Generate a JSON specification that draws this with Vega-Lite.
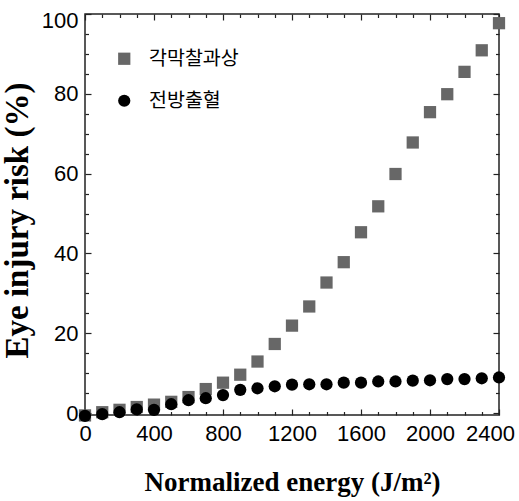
{
  "$schema": "https://vega.github.io/schema/vega-lite/v6.json",
  "width": 414,
  "height": 401,
  "autosize": {"type": "none"},
  "padding": {"left": 85, "top": 14, "right": 20, "bottom": 86},
  "background": "white",
  "config": {"view": {"stroke": "#222222", "strokeWidth": 1.5}},
  "data": {"values": [
    {"type": "각막찰과상", "energy": 0, "risk": -0.6},
    {"type": "각막찰과상", "energy": 100, "risk": 0.2},
    {"type": "각막찰과상", "energy": 200, "risk": 0.8},
    {"type": "각막찰과상", "energy": 300, "risk": 1.5},
    {"type": "각막찰과상", "energy": 400, "risk": 2.1},
    {"type": "각막찰과상", "energy": 500, "risk": 2.8},
    {"type": "각막찰과상", "energy": 600, "risk": 4.0},
    {"type": "각막찰과상", "energy": 700, "risk": 6.0},
    {"type": "각막찰과상", "energy": 800, "risk": 7.6},
    {"type": "각막찰과상", "energy": 900, "risk": 9.6},
    {"type": "각막찰과상", "energy": 1000, "risk": 12.9},
    {"type": "각막찰과상", "energy": 1100, "risk": 17.3},
    {"type": "각막찰과상", "energy": 1200, "risk": 21.9},
    {"type": "각막찰과상", "energy": 1300, "risk": 26.7},
    {"type": "각막찰과상", "energy": 1400, "risk": 32.7},
    {"type": "각막찰과상", "energy": 1500, "risk": 37.8},
    {"type": "각막찰과상", "energy": 1600, "risk": 45.3},
    {"type": "각막찰과상", "energy": 1700, "risk": 51.8},
    {"type": "각막찰과상", "energy": 1800, "risk": 59.9},
    {"type": "각막찰과상", "energy": 1900, "risk": 67.8},
    {"type": "각막찰과상", "energy": 2000, "risk": 75.4},
    {"type": "각막찰과상", "energy": 2100, "risk": 79.9},
    {"type": "각막찰과상", "energy": 2200, "risk": 85.5},
    {"type": "각막찰과상", "energy": 2300, "risk": 90.9},
    {"type": "각막찰과상", "energy": 2400, "risk": 97.7},
    {"type": "전방출혈", "energy": 0, "risk": -0.7},
    {"type": "전방출혈", "energy": 100, "risk": -0.3},
    {"type": "전방출혈", "energy": 200, "risk": 0.2},
    {"type": "전방출혈", "energy": 300, "risk": 0.9},
    {"type": "전방출혈", "energy": 400, "risk": 0.8},
    {"type": "전방출혈", "energy": 500, "risk": 2.2},
    {"type": "전방출혈", "energy": 600, "risk": 3.2},
    {"type": "전방출혈", "energy": 700, "risk": 3.7},
    {"type": "전방출혈", "energy": 800, "risk": 4.5},
    {"type": "전방출혈", "energy": 900, "risk": 5.8},
    {"type": "전방출혈", "energy": 1000, "risk": 6.2},
    {"type": "전방출혈", "energy": 1100, "risk": 6.7},
    {"type": "전방출혈", "energy": 1200, "risk": 7.1},
    {"type": "전방출혈", "energy": 1300, "risk": 7.2},
    {"type": "전방출혈", "energy": 1400, "risk": 7.2},
    {"type": "전방출혈", "energy": 1500, "risk": 7.6},
    {"type": "전방출혈", "energy": 1600, "risk": 7.6},
    {"type": "전방출혈", "energy": 1700, "risk": 7.9},
    {"type": "전방출혈", "energy": 1800, "risk": 7.9},
    {"type": "전방출혈", "energy": 1900, "risk": 8.1},
    {"type": "전방출혈", "energy": 2000, "risk": 8.2},
    {"type": "전방출혈", "energy": 2100, "risk": 8.5},
    {"type": "전방출혈", "energy": 2200, "risk": 8.5},
    {"type": "전방출혈", "energy": 2300, "risk": 8.7},
    {"type": "전방출혈", "energy": 2400, "risk": 8.9}
  ]},
  "layer": [
    {
      "mark": {"type": "point", "filled": true, "opacity": 1, "size": 150},
      "encoding": {
        "x": {
          "field": "energy", "type": "quantitative",
          "scale": {"domain": [0, 2400], "nice": false, "zero": false},
          "axis": {
            "orient": "bottom",
            "values": [0,100,200,300,400,500,600,700,800,900,1000,1100,1200,1300,1400,1500,1600,1700,1800,1900,2000,2100,2200,2300,2400],
            "format": "d",
            "labelExpr": "datum.value % 400 === 0 ? datum.label : ''",
            "tickSize": {"condition": {"test": "datum.value % 400 === 0", "value": -6}, "value": -3.5},
            "labelOffset": {"condition": {"test": "datum.value === 2400", "value": -9}, "value": 0},
            "tickColor": "#222222", "tickWidth": 1.2,
            "domain": false, "grid": false,
            "labelFont": "Liberation Sans", "labelFontSize": 22, "labelColor": "black",
            "labelPadding": 14, "labelFlush": false, "labelOverlap": false,
            "title": "Normalized energy (J/m²)",
            "titleFont": "Liberation Serif", "titleFontSize": 27, "titleFontWeight": "bold", "titleColor": "black",
            "titleY": 75, "titleBaseline": "alphabetic"
          }
        },
        "y": {
          "field": "risk", "type": "quantitative",
          "scale": {"domain": [-0.5, 100], "nice": false, "zero": false},
          "axis": {
            "orient": "left",
            "values": [0,5,10,15,20,25,30,35,40,45,50,55,60,65,70,75,80,85,90,95,100],
            "labelExpr": "datum.value % 20 === 0 ? datum.label : ''",
            "tickSize": {"condition": {"test": "datum.value % 20 === 0", "value": -6}, "value": -3.5},
            "labelOffset": {"condition": {"test": "datum.value === 100", "value": 6}, "value": 0},
            "tickColor": "#222222", "tickWidth": 1.2,
            "domain": false, "grid": false,
            "labelFont": "Liberation Sans", "labelFontSize": 22, "labelColor": "black",
            "labelPadding": 13, "labelFlush": false, "labelOverlap": false,
            "title": "Eye injury risk (%)",
            "titleFont": "Liberation Serif", "titleFontSize": 33, "titleFontWeight": "bold", "titleColor": "black",
            "titleX": -58, "titleY": 206, "titleAngle": -90, "titleBaseline": "alphabetic", "titleAlign": "center"
          }
        },
        "shape": {
          "field": "type", "type": "nominal",
          "scale": {"domain": ["각막찰과상", "전방출혈"], "range": ["square", "circle"]},
          "legend": {
            "orient": "none", "legendX": 29.5, "legendY": 35,
            "title": null, "padding": 0, "direction": "vertical",
            "symbolSize": 150,
            "labelFont": "Noto Sans CJK KR", "labelFontSize": 19.5, "labelOffset": 15,
            "rowPadding": 21,
            "encode": {"labels": {"fill": {"value": {"expr": "datum.index === 0 ? '#707070' : '#000000'"}}}}
          }
        },
        "color": {
          "field": "type", "type": "nominal",
          "scale": {"domain": ["각막찰과상", "전방출혈"], "range": ["#676767", "#000000"]},
          "legend": {
            "orient": "none", "legendX": 29.5, "legendY": 35,
            "title": null, "padding": 0, "direction": "vertical",
            "symbolSize": 150,
            "labelFont": "Noto Sans CJK KR", "labelFontSize": 19.5, "labelOffset": 15,
            "rowPadding": 21,
            "encode": {"labels": {"fill": {"value": {"expr": "datum.index === 0 ? '#707070' : '#000000'"}}}}
          }
        }
      }
    },
    {
      "mark": {"type": "point", "opacity": 0},
      "encoding": {
        "x": {
          "field": "energy", "type": "quantitative",
          "axis": {
            "orient": "top",
            "values": [0,100,200,300,400,500,600,700,800,900,1000,1100,1200,1300,1400,1500,1600,1700,1800,1900,2000,2100,2200,2300,2400],
            "labels": false, "title": null, "domain": false, "grid": false,
            "tickSize": {"condition": {"test": "datum.value % 400 === 0", "value": -6}, "value": -3.5},
            "tickColor": "#222222", "tickWidth": 1.2
          }
        },
        "y": {
          "field": "risk", "type": "quantitative",
          "axis": {
            "orient": "right",
            "values": [0,5,10,15,20,25,30,35,40,45,50,55,60,65,70,75,80,85,90,95,100],
            "labels": false, "title": null, "domain": false, "grid": false,
            "tickSize": {"condition": {"test": "datum.value % 20 === 0", "value": -6}, "value": -3.5},
            "tickColor": "#222222", "tickWidth": 1.2
          }
        }
      }
    }
  ],
  "resolve": {"axis": {"x": "independent", "y": "independent"}}
}
